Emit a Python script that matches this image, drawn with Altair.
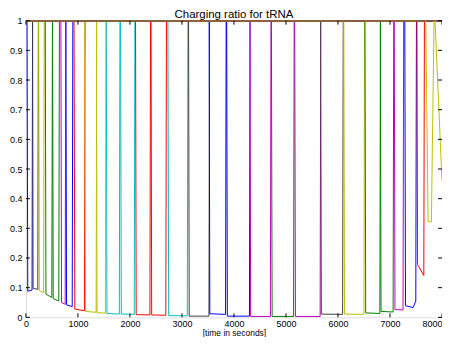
import altair as alt
import pandas as pd

# MATLAB-style colour letters for each tRNA series
series_colors = ["b", "k", "y", "g", "g", "m", "b", "r", "y", "y",
                 "c", "c", "r", "r", "c", "k", "b", "b", "m", "g",
                 "m", "k", "y", "g", "g", "m", "b", "r", "y", "y"]

# time points (s) of each dip
dip_times = [
    [22, 35, 118, 128], [128, 138, 228, 240], [245, 258, 340, 352],
    [372, 385, 498, 510], [512, 525, 632, 644], [672, 685, 755, 767],
    [768, 781, 890, 902], [925, 940, 1125, 1137], [1132, 1145, 1350, 1362],
    [1356, 1368, 1528, 1540], [1545, 1558, 1796, 1808], [1820, 1834, 2083, 2095],
    [2108, 2120, 2384, 2396], [2405, 2418, 2690, 2702], [2730, 2745, 3103, 3115],
    [3127, 3140, 3519, 3531], [3522, 3536, 3838, 3850], [3860, 3873, 4298, 4310],
    [4308, 4321, 4700, 4712], [4720, 4734, 5146, 5158], [5168, 5182, 5657, 5669],
    [5666, 5680, 6089, 6101], [6112, 6126, 6499, 6511], [6519, 6533, 6805, 6817],
    [6814, 6828, 7060, 7072], [7082, 7096, 7251, 7263], [7285, 7298, 7445, 7496, 7509],
    [7518, 7531, 7650, 7662], [7688, 7733, 7796, 7847], [7866, 8000],
]
# charging ratio at those time points
dip_values = [
    [1, 0.088, 0.092, 1], [1, 0.098, 0.094, 1], [1, 0.090, 0.083, 1],
    [1, 0.078, 0.067, 1], [1, 0.063, 0.055, 1], [1, 0.050, 0.044, 1],
    [1, 0.042, 0.036, 1], [1, 0.028, 0.022, 1], [1, 0.020, 0.017, 1],
    [1, 0.016, 0.014, 1], [1, 0.013, 0.011, 1], [1, 0.011, 0.010, 1],
    [1, 0.009, 0.008, 1], [1, 0.008, 0.007, 1], [1, 0.006, 0.005, 1],
    [1, 0.004, 0.004, 1], [1, 0.012, 0.010, 1], [1, 0.004, 0.004, 1],
    [1, 0.003, 0.003, 1], [1, 0.003, 0.003, 1], [1, 0.003, 0.003, 1],
    [1, 0.011, 0.010, 1], [1, 0.011, 0.010, 1], [1, 0.015, 0.013, 1],
    [1, 0.020, 0.018, 1], [1, 0.026, 0.025, 1], [1, 0.039, 0.033, 0.055, 1],
    [1, 0.178, 0.141, 1], [1, 0.322, 0.322, 1], [1, 0.46],
]

x_ticks = [0, 1000, 2000, 3000, 4000, 5000, 6000, 7000, 8000]
y_ticks = [0, 0.1, 0.2, 0.3, 0.4, 0.5, 0.6, 0.7, 0.8, 0.9, 1]

color_map = {"b": "#0000ff", "g": "#008000", "r": "#ff0000", "c": "#00bfbf",
             "m": "#bf00bf", "y": "#bfbf00", "k": "#404040"}

rows = []
order = 0
for i, (ts, vs) in enumerate(zip(dip_times, dip_values)):
    pts = [(0, 1)] + list(zip(ts, vs))
    if ts[-1] < 8000:
        pts.append((8000, 1))
    for t, v in pts:
        rows.append({"s": i, "t": t, "v": v, "o": order})
        order += 1
df = pd.DataFrame(rows)

FONT = "Liberation Sans"
W, H = 418, 298

x_scale = alt.Scale(domain=[0, 8000], nice=False, zero=False)
y_scale = alt.Scale(domain=[0, 1], nice=False)
x_axis = alt.Axis(values=x_ticks, format="d", tickSize=0, domain=False, grid=False,
                  labelFontSize=9, labelFont=FONT, labelColor="black", labelPadding=2,
                  labelFlush=False, labelOverlap=False,
                  labelAlign={"condition": {"test": "datum.value == 8000", "value": "right"},
                              "value": "center"},
                  title="[time in seconds]", titleFontSize=8.5, titleFont=FONT,
                  titleFontWeight="normal", titleColor="black", titlePadding=0)
y_axis = alt.Axis(values=y_ticks, format="~g", tickSize=0, domain=False, grid=False,
                  labelFontSize=9, labelFont=FONT, labelColor="black", labelPadding=4,
                  labelFlush=False, labelOverlap=False, title="")

lines = alt.Chart(df).mark_line(strokeWidth=1, clip=True).encode(
    x=alt.X("t:Q", scale=x_scale, axis=x_axis),
    y=alt.Y("v:Q", scale=y_scale, axis=y_axis),
    color=alt.Color("s:N", scale=alt.Scale(domain=list(range(len(series_colors))),
                                           range=[color_map[c] for c in series_colors]),
                    legend=None),
    order="o:Q",
)

xt = pd.DataFrame({"xt": x_ticks})
yt = pd.DataFrame({"yt": y_ticks})
bottom = alt.Chart(xt).mark_rule(color="black", strokeWidth=1).encode(
    x=alt.X("xt:Q", scale=x_scale, axis=x_axis), y=alt.value(H), y2=alt.value(H - 4))
top = alt.Chart(xt).mark_rule(color="black", strokeWidth=1).encode(
    x=alt.X("xt:Q", scale=x_scale, axis=x_axis), y=alt.value(0), y2=alt.value(4))
left = alt.Chart(yt).mark_rule(color="black", strokeWidth=1).encode(
    y=alt.Y("yt:Q", scale=y_scale, axis=y_axis), x=alt.value(0), x2=alt.value(4))
right = alt.Chart(yt).mark_rule(color="black", strokeWidth=1).encode(
    y=alt.Y("yt:Q", scale=y_scale, axis=y_axis), x=alt.value(W), x2=alt.value(W - 4))

chart = alt.layer(lines, bottom, top, left, right).properties(
    width=W, height=H,
    title=alt.TitleParams("Charging ratio for tRNA", fontSize=11.5, fontWeight="normal",
                          font=FONT, color="black", offset=0, dy=4, anchor="middle"),
    autosize="none",
    padding={"left": 18, "top": 12, "right": 0, "bottom": 19},
).configure_view(stroke="black", strokeWidth=1).configure(background="white")

chart.save("out.html", embed_options={"renderer": "svg", "actions": False})
